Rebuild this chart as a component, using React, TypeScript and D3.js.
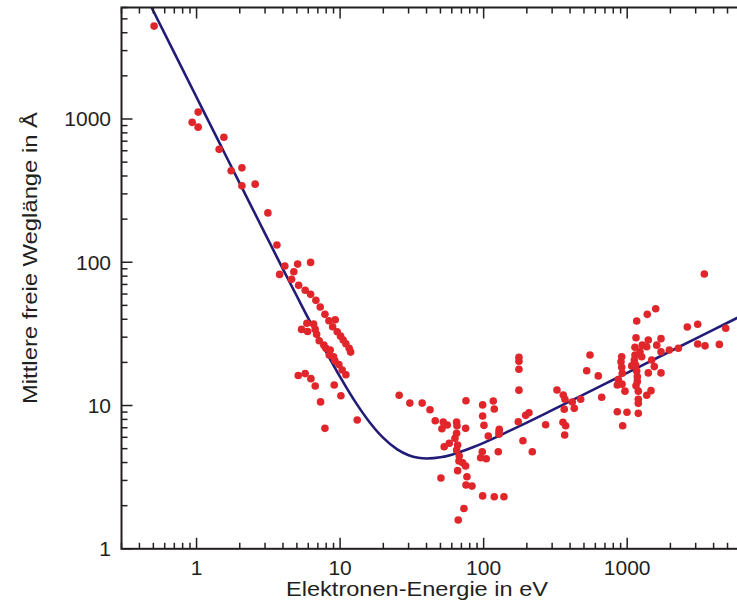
import React from "react";
import * as d3 from "d3";

// Measured points: electron energy (eV) and inelastic mean free path (Å)
const pointE = [
  0.506, 0.932, 1.026, 1.026, 1.437, 1.55, 1.742, 2.07, 2.07, 2.56, 3.14, 3.63, 4.12, 3.79, 5.06, 6.23,
  4.76, 4.59, 5.14, 5.71, 6.23, 6.78, 7.27, 7.84, 8.36, 9.25, 8.87, 9.55, 10.08, 10.51, 10.97,
  5.87, 5.39, 5.94, 6.54, 6.71, 6.86, 7.15, 7.71, 7.96, 8.53, 8.4, 9.01, 9.2, 9.81, 10.34, 10.97,
  11.57, 11.84, 5.11, 5.71, 6.26, 6.71, 9.1, 10.13, 7.31, 13.16, 7.84,
  25.8, 30.6, 37.3, 42.3, 46.0, 52.3, 55.8, 51.2, 64.8, 65.2, 74.9, 75.3, 98.4, 116.7, 118.6, 98.4,
  100.5, 64.8, 63.1, 57.6, 53.1, 65.9, 64.8, 67.6, 67.3, 71.4, 74.9, 65.9, 50.4, 76.5, 75.3, 82.9,
  107.7, 128.5, 126.4, 97.8, 95.3, 104.3, 98.4, 118.6, 138.5, 72.9, 66.5,
  176.2, 176.2, 176.2, 176.2, 174.2, 196.2, 206.9, 127.9, 127.9, 187.8, 270.4, 218.2,
  324.2, 358.6, 368.6, 414.4, 364.4, 427.9, 474.2, 356.9, 372.7, 366.8, 522.2, 550.6,
  628.9, 664.3, 853.1, 996.8, 930.2, 1195, 915.5, 905.2, 915.5, 924.4, 866.9, 853.1, 920, 965.4,
  1152, 1133, 1133, 1121, 1146, 1165, 1176, 1176, 1152, 1195, 1195, 1195, 1165, 1380, 1580,
  1403, 1274, 1368, 1228, 1481, 1606, 1720, 1720, 1965, 1403, 1545, 1720, 1465, 1368, 1075, 1262,
  3446, 2623, 3099, 4858, 2271, 3099, 3485, 4384,
];
const pointL = [
  4450, 947, 1117, 877, 614, 745, 435, 456, 342, 351, 221, 132, 94.1, 82.3, 97.1, 99.8,
  85.9, 76.0, 69.0, 63.7, 59.7, 54.2, 48.7, 43.3, 39.1, 39.7, 35.5, 32.7, 30.5, 28.7, 27.0,
  37.5, 34.0, 32.9, 37.0, 34.0, 31.4, 28.3, 26.4, 25.1, 24.4, 22.5, 21.9, 20.5, 19.3, 17.7, 16.4,
  25.1, 23.6, 16.2, 16.7, 15.4, 13.7, 13.9, 11.7, 10.6, 7.92, 6.93,
  11.8, 10.4, 10.4, 9.35, 7.83, 7.67, 7.31, 6.89, 7.67, 7.23, 6.93, 10.8, 10.1, 10.75, 9.45, 8.45,
  7.27, 6.4, 5.9, 5.45, 5.16, 5.3, 4.89, 4.44, 4.1, 3.99, 3.78, 3.51, 3.12, 3.18, 2.79, 2.74,
  6.13, 6.82, 4.76, 4.76, 4.32, 4.25, 2.34, 2.31, 2.31, 1.91, 1.59,
  21.7, 20.4, 17.9, 12.8, 7.71, 8.54, 8.91, 6.55, 6.3, 5.68, 7.35, 4.76,
  12.83, 11.84, 11.05, 10.58, 9.41, 9.56, 11.05, 7.64, 7.23, 6.22, 17.5, 22.5,
  16.1, 11.41, 9.05, 8.97, 7.23, 8.82, 21.9, 20.2, 18.5, 16.8, 15.2, 13.9, 14.1, 12.6,
  29.7, 25.5, 22.5, 20.8, 19.2, 17.4, 15.9, 14.7, 13.75, 12.6, 11.05, 10.36, 38.9, 43.3, 47.4,
  28.7, 26.4, 25.7, 23.7, 20.8, 26.4, 29.3, 23.7, 24.4, 16.9, 18.7, 16.9, 12.7, 11.8, 18.9, 21.9,
  82.8, 35.3, 36.9, 34.6, 25.1, 26.9, 26.1, 26.7,
];

// Universal curve
const curveE = [
  0.4, 0.5, 0.7, 1, 1.5, 2, 3, 4, 5, 7, 10, 13, 16, 20, 25, 30, 35, 40, 50, 60, 70, 85, 100,
  150, 200, 300, 500, 700, 1000, 2000, 3000, 5000, 7000,
];
const curveL = [
  8857, 5668, 2892, 1417.5, 630.4, 355.0, 158.4, 89.6, 57.9, 30.3, 15.86, 10.31, 7.68, 5.94, 4.94,
  4.5, 4.32, 4.27, 4.35, 4.54, 4.77, 5.13, 5.49, 6.62, 7.6, 9.28, 11.96, 14.15, 16.92, 23.93,
  29.3, 37.83, 44.76,
];

const xTickValues = [1, 10, 100, 1000];
const yTickValues = [1, 10, 100, 1000];
const xTitle = "Elektronen-Energie in eV";
const yTitle = "Mittlere freie Weglänge in Å";

const INK = "#231f20";
const FONT = "'Liberation Sans', Arial, Helvetica, sans-serif";

function logMinors(lo: number, hi: number): number[] {
  const out: number[] = [];
  for (let d = Math.pow(10, Math.floor(Math.log10(lo))); d <= hi; d *= 10) {
    for (let k = 1; k <= 9; k++) {
      const v = d * k;
      if (v >= lo * 0.999 && v <= hi * 1.001) out.push(v);
    }
  }
  return out;
}

export default function App() {
  const W = 737;
  const H = 606;
  const x0 = 121.5, x1 = 748.5, y0 = 7.5, y1 = 548.8;
  const x = d3.scaleLog().domain([0.3, 7000]).range([x0, x1]);
  const y = d3.scaleLog().domain([1, 6000]).range([y1, y0]);

  const xMinor = logMinors(0.3, 7000);
  const yMinor = logMinors(1, 6000);
  const isMajor = (v: number) => Math.abs(Math.log10(v) - Math.round(Math.log10(v))) < 1e-6;

  const line = d3
    .line<number>()
    .x((_, i) => x(curveE[i]))
    .y((_, i) => y(curveL[i]))
    .curve(d3.curveMonotoneX);

  const MAJ = 11, MIN = 6;

  return (
    <svg
      width={W}
      height={H}
      style={{ position: "absolute", left: 0, top: 0, background: "#fff" }}
      fontFamily={FONT}
    >
      <defs>
        <clipPath id="plot">
          <rect x={x0} y={y0} width={x1 - x0} height={y1 - y0} />
        </clipPath>
      </defs>
      <rect x={0} y={0} width={W} height={H} fill="#fff" />

      <g clipPath="url(#plot)">
        <path d={line(curveE) || ""} fill="none" stroke="#221c78" strokeWidth={2.6} />
        {pointE.map((e, i) => (
          <circle key={i} cx={x(e)} cy={y(pointL[i])} r={3.8} fill="#e1262b" />
        ))}
      </g>

      {/* frame */}
      <rect x={x0} y={y0} width={x1 - x0} height={y1 - y0} fill="none" stroke={INK} strokeWidth={2} />

      {/* x ticks bottom and top */}
      {xMinor.map((v, i) => {
        const L = isMajor(v) ? MAJ : MIN;
        const px = x(v);
        return (
          <g key={"xt" + i} stroke={INK} strokeWidth={1.5}>
            <line x1={px} x2={px} y1={y1} y2={y1 - L} />
            <line x1={px} x2={px} y1={y0} y2={y0 + L} />
          </g>
        );
      })}
      {/* y ticks left and right */}
      {yMinor.map((v, i) => {
        const L = isMajor(v) ? MAJ : MIN;
        const py = y(v);
        return (
          <g key={"yt" + i} stroke={INK} strokeWidth={1.5}>
            <line x1={x0} x2={x0 + L} y1={py} y2={py} />
            <line x1={x1} x2={x1 - L} y1={py} y2={py} />
          </g>
        );
      })}

      {xTickValues.map((v) => (
        <text key={"xl" + v} x={x(v)} y={575} textAnchor="middle" fontSize={21} fill={INK}>
          {d3.format("d")(v)}
        </text>
      ))}
      {yTickValues.map((v) => (
        <text key={"yl" + v} x={111} y={y(v) + 7.5} textAnchor="end" fontSize={21} fill={INK}>
          {d3.format("d")(v)}
        </text>
      ))}

      <text
        x={417}
        y={596}
        textAnchor="middle"
        fontSize={21}
        fill={INK}
        textLength={262}
        lengthAdjust="spacingAndGlyphs"
      >
        {xTitle}
      </text>
      <text
        transform="translate(37,258) rotate(-90)"
        textAnchor="middle"
        fontSize={21}
        fill={INK}
        textLength={292}
        lengthAdjust="spacingAndGlyphs"
      >
        {yTitle}
      </text>
    </svg>
  );
}
